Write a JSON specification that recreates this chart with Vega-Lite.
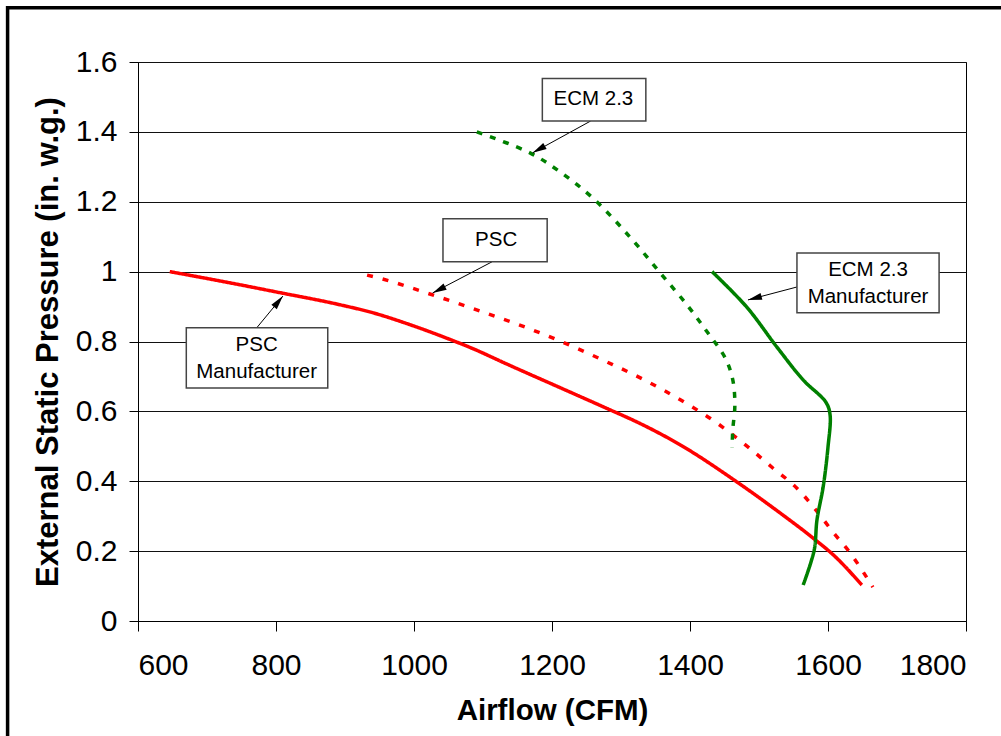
{
  "$schema": "https://vega.github.io/schema/vega-lite/v6.json",
  "width": 828,
  "height": 559,
  "autosize": {"type": "none"},
  "padding": {"left": 138, "top": 62, "right": 35, "bottom": 115},
  "background": "white",
  "config": {
    "font": "Liberation Sans",
    "view": {"stroke": "#000", "strokeWidth": 1},
    "axis": {
      "domainColor": "#000",
      "domainWidth": 1,
      "tickColor": "#000",
      "tickWidth": 1,
      "labelColor": "#000",
      "labelFont": "Liberation Sans",
      "labelFontSize": 30,
      "labelFontWeight": "normal",
      "titleColor": "#000",
      "titleFont": "Liberation Sans",
      "titleFontWeight": "bold",
      "gridColor": "#111",
      "gridWidth": 1,
      "gridOpacity": 1
    }
  },
  "datasets": {
    "curves": [
      {"series": "PSC Manufacturer", "i": 1, "cfm": 646, "esp": 1.0},
      {"series": "PSC Manufacturer", "i": 2, "cfm": 733, "esp": 0.968},
      {"series": "PSC Manufacturer", "i": 3, "cfm": 800, "esp": 0.942},
      {"series": "PSC Manufacturer", "i": 4, "cfm": 893, "esp": 0.905},
      {"series": "PSC Manufacturer", "i": 5, "cfm": 941, "esp": 0.882},
      {"series": "PSC Manufacturer", "i": 6, "cfm": 990, "esp": 0.851},
      {"series": "PSC Manufacturer", "i": 7, "cfm": 1052, "esp": 0.806},
      {"series": "PSC Manufacturer", "i": 8, "cfm": 1086, "esp": 0.779},
      {"series": "PSC Manufacturer", "i": 9, "cfm": 1135, "esp": 0.735},
      {"series": "PSC Manufacturer", "i": 10, "cfm": 1207, "esp": 0.672},
      {"series": "PSC Manufacturer", "i": 11, "cfm": 1280, "esp": 0.608},
      {"series": "PSC Manufacturer", "i": 12, "cfm": 1328, "esp": 0.565},
      {"series": "PSC Manufacturer", "i": 13, "cfm": 1386, "esp": 0.504},
      {"series": "PSC Manufacturer", "i": 14, "cfm": 1468, "esp": 0.398},
      {"series": "PSC Manufacturer", "i": 15, "cfm": 1530, "esp": 0.31},
      {"series": "PSC Manufacturer", "i": 16, "cfm": 1578, "esp": 0.238},
      {"series": "PSC Manufacturer", "i": 17, "cfm": 1610, "esp": 0.185},
      {"series": "PSC Manufacturer", "i": 18, "cfm": 1649, "esp": 0.103},

      {"series": "PSC", "i": 1, "cfm": 932, "esp": 0.99},
      {"series": "PSC", "i": 2, "cfm": 954, "esp": 0.979},
      {"series": "PSC", "i": 3, "cfm": 1023, "esp": 0.936},
      {"series": "PSC", "i": 4, "cfm": 1096, "esp": 0.887},
      {"series": "PSC", "i": 5, "cfm": 1164, "esp": 0.839},
      {"series": "PSC", "i": 6, "cfm": 1212, "esp": 0.801},
      {"series": "PSC", "i": 7, "cfm": 1280, "esp": 0.741},
      {"series": "PSC", "i": 8, "cfm": 1328, "esp": 0.696},
      {"series": "PSC", "i": 9, "cfm": 1386, "esp": 0.633},
      {"series": "PSC", "i": 10, "cfm": 1433, "esp": 0.575},
      {"series": "PSC", "i": 11, "cfm": 1483, "esp": 0.5},
      {"series": "PSC", "i": 12, "cfm": 1520, "esp": 0.438},
      {"series": "PSC", "i": 13, "cfm": 1555, "esp": 0.38},
      {"series": "PSC", "i": 14, "cfm": 1584, "esp": 0.314},
      {"series": "PSC", "i": 15, "cfm": 1607, "esp": 0.255},
      {"series": "PSC", "i": 16, "cfm": 1632, "esp": 0.195},
      {"series": "PSC", "i": 17, "cfm": 1665, "esp": 0.097},

      {"series": "ECM 2.3", "i": 1, "cfm": 1091, "esp": 1.4},
      {"series": "ECM 2.3", "i": 2, "cfm": 1168, "esp": 1.34},
      {"series": "ECM 2.3", "i": 3, "cfm": 1212, "esp": 1.285},
      {"series": "ECM 2.3", "i": 4, "cfm": 1259, "esp": 1.211},
      {"series": "ECM 2.3", "i": 5, "cfm": 1313, "esp": 1.099},
      {"series": "ECM 2.3", "i": 6, "cfm": 1357, "esp": 0.996},
      {"series": "ECM 2.3", "i": 7, "cfm": 1396, "esp": 0.904},
      {"series": "ECM 2.3", "i": 8, "cfm": 1425, "esp": 0.827},
      {"series": "ECM 2.3", "i": 9, "cfm": 1451, "esp": 0.753},
      {"series": "ECM 2.3", "i": 10, "cfm": 1462, "esp": 0.69},
      {"series": "ECM 2.3", "i": 11, "cfm": 1465, "esp": 0.618},
      {"series": "ECM 2.3", "i": 12, "cfm": 1462, "esp": 0.547},
      {"series": "ECM 2.3", "i": 13, "cfm": 1461, "esp": 0.495},

      {"series": "ECM 2.3 Manufacturer", "i": 1, "cfm": 1432, "esp": 1.0},
      {"series": "ECM 2.3 Manufacturer", "i": 2, "cfm": 1482, "esp": 0.899},
      {"series": "ECM 2.3 Manufacturer", "i": 3, "cfm": 1526, "esp": 0.784},
      {"series": "ECM 2.3 Manufacturer", "i": 4, "cfm": 1564, "esp": 0.69},
      {"series": "ECM 2.3 Manufacturer", "i": 5, "cfm": 1597, "esp": 0.626},
      {"series": "ECM 2.3 Manufacturer", "i": 6, "cfm": 1603, "esp": 0.59},
      {"series": "ECM 2.3 Manufacturer", "i": 7, "cfm": 1600, "esp": 0.498},
      {"series": "ECM 2.3 Manufacturer", "i": 8, "cfm": 1593, "esp": 0.384},
      {"series": "ECM 2.3 Manufacturer", "i": 9, "cfm": 1584, "esp": 0.289},
      {"series": "ECM 2.3 Manufacturer", "i": 10, "cfm": 1580, "esp": 0.203},
      {"series": "ECM 2.3 Manufacturer", "i": 11, "cfm": 1564, "esp": 0.103}
    ],
    "notes": [
      {"id": "ecm", "text": "ECM 2.3", "bx1": 1186, "bx2": 1336, "by1": 1.553, "by2": 1.431, "tx": 1260, "ty": 1.494, "ax": 1256, "ay": 1.431, "hx": 1172, "hy": 1.34},
      {"id": "psc", "text": "PSC", "bx1": 1042, "bx2": 1193, "by1": 1.151, "by2": 1.028, "tx": 1119, "ty": 1.09, "ax": 1113, "ay": 1.028, "hx": 1027, "hy": 0.939},
      {"id": "pscm", "text": "PSC\nManufacturer", "bx1": 670, "bx2": 875, "by1": 0.839, "by2": 0.667, "tx": 772, "ty": 0.79, "ax": 772, "ay": 0.839, "hx": 810, "hy": 0.93},
      {"id": "ecmm", "text": "ECM 2.3\nManufacturer", "bx1": 1555, "bx2": 1761, "by1": 1.053, "by2": 0.882, "tx": 1658, "ty": 1.006, "ax": 1555, "ay": 0.956, "hx": 1484, "hy": 0.919}
    ],
    "frame": [
      {"x1": 411, "x2": 1900, "y1": 1.755, "y2": -0.7}
    ]
  },
  "layer": [
    {
      "data": {"name": "curves"},
      "transform": [{"filter": "datum.series === 'PSC Manufacturer' || datum.series === 'PSC'"}],
      "mark": {"type": "line", "strokeWidth": 3.5, "interpolate": "monotone", "strokeCap": "butt"},
      "encoding": {
        "x": {
          "field": "cfm", "type": "quantitative",
          "scale": {"domain": [600, 1800], "nice": false, "zero": false},
          "axis": {
            "title": "Airflow (CFM)",
            "values": [600, 800, 1000, 1200, 1400, 1600, 1800],
            "format": "d",
            "grid": false,
            "tickSize": 10,
            "labelPadding": 19,
            "titleFontSize": 29.5,
            "titleBaseline": "alphabetic",
            "titleY": 98
          }
        },
        "y": {
          "field": "esp", "type": "quantitative",
          "scale": {"domain": [0, 1.6], "nice": false, "zero": true},
          "axis": {
            "title": "External Static Pressure (in. w.g.)",
            "values": [0, 0.2, 0.4, 0.6, 0.8, 1, 1.2, 1.4, 1.6],
            "format": "~g",
            "grid": true,
            "tickSize": 9,
            "labelPadding": 12,
            "titleFontSize": 31,
            "titleBaseline": "alphabetic",
            "titleAngle": 270,
            "titleX": -81,
            "titleY": 279.5,
            "titleAlign": "center"
          }
        },
        "order": {"field": "i", "type": "quantitative"},
        "detail": {"field": "series"},
        "color": {
          "field": "series", "type": "nominal", "legend": null,
          "scale": {"domain": ["PSC Manufacturer", "PSC", "ECM 2.3", "ECM 2.3 Manufacturer"], "range": ["#ff0000", "#ff0000", "#008000", "#008000"]}
        },
        "strokeDash": {
          "field": "series", "type": "nominal", "legend": null,
          "scale": {"domain": ["PSC Manufacturer", "PSC", "ECM 2.3", "ECM 2.3 Manufacturer"], "range": [[1, 0], [6, 10], [6, 8], [1, 0]]}
        }
      }
    },
    {
      "data": {"name": "curves"},
      "transform": [{"filter": "datum.series === 'ECM 2.3' || datum.series === 'ECM 2.3 Manufacturer'"}],
      "mark": {"type": "line", "strokeWidth": 3.5, "interpolate": "catmull-rom", "strokeCap": "butt"},
      "encoding": {
        "x": {"field": "cfm", "type": "quantitative"},
        "y": {"field": "esp", "type": "quantitative"},
        "order": {"field": "i", "type": "quantitative"},
        "detail": {"field": "series"},
        "color": {"field": "series", "type": "nominal", "legend": null},
        "strokeDash": {"field": "series", "type": "nominal", "legend": null}
      }
    },
    {
      "data": {"name": "notes"},
      "mark": {"type": "rule", "color": "#000", "strokeWidth": 1},
      "encoding": {
        "x": {"field": "ax", "type": "quantitative"},
        "y": {"field": "ay", "type": "quantitative"},
        "x2": {"field": "hx"},
        "y2": {"field": "hy"}
      }
    },
    {
      "data": {"name": "notes"},
      "transform": [{"filter": "datum.id === 'ecm'"}],
      "mark": {"type": "point", "shape": "M0,0L-0.5,2L0.5,2Z", "size": 196, "filled": true, "color": "#000", "opacity": 1, "angle": 241},
      "encoding": {
        "x": {"field": "hx", "type": "quantitative"},
        "y": {"field": "hy", "type": "quantitative"}
      }
    },
    {
      "data": {"name": "notes"},
      "transform": [{"filter": "datum.id === 'psc'"}],
      "mark": {"type": "point", "shape": "M0,0L-0.5,2L0.5,2Z", "size": 196, "filled": true, "color": "#000", "opacity": 1, "angle": 243},
      "encoding": {
        "x": {"field": "hx", "type": "quantitative"},
        "y": {"field": "hy", "type": "quantitative"}
      }
    },
    {
      "data": {"name": "notes"},
      "transform": [{"filter": "datum.id === 'pscm'"}],
      "mark": {"type": "point", "shape": "M0,0L-0.5,2L0.5,2Z", "size": 196, "filled": true, "color": "#000", "opacity": 1, "angle": 39},
      "encoding": {
        "x": {"field": "hx", "type": "quantitative"},
        "y": {"field": "hy", "type": "quantitative"}
      }
    },
    {
      "data": {"name": "notes"},
      "transform": [{"filter": "datum.id === 'ecmm'"}],
      "mark": {"type": "point", "shape": "M0,0L-0.5,2L0.5,2Z", "size": 196, "filled": true, "color": "#000", "opacity": 1, "angle": 255},
      "encoding": {
        "x": {"field": "hx", "type": "quantitative"},
        "y": {"field": "hy", "type": "quantitative"}
      }
    },
    {
      "data": {"name": "notes"},
      "mark": {"type": "rect", "fill": "#ffffff", "stroke": "#444", "strokeWidth": 1.5},
      "encoding": {
        "x": {"field": "bx1", "type": "quantitative"},
        "x2": {"field": "bx2"},
        "y": {"field": "by1", "type": "quantitative"},
        "y2": {"field": "by2"}
      }
    },
    {
      "data": {"name": "notes"},
      "mark": {"type": "text", "font": "Liberation Sans", "fontSize": 20.5, "color": "#000", "align": "center", "baseline": "middle", "lineBreak": "\n", "lineHeight": 27},
      "encoding": {
        "x": {"field": "tx", "type": "quantitative"},
        "y": {"field": "ty", "type": "quantitative"},
        "text": {"field": "text"}
      }
    },
    {
      "data": {"name": "frame"},
      "mark": {"type": "rect", "fill": null, "fillOpacity": 0, "stroke": "#000", "strokeWidth": 3.5, "clip": false},
      "encoding": {
        "x": {"field": "x1", "type": "quantitative"},
        "x2": {"field": "x2"},
        "y": {"field": "y1", "type": "quantitative"},
        "y2": {"field": "y2"}
      }
    }
  ]
}
